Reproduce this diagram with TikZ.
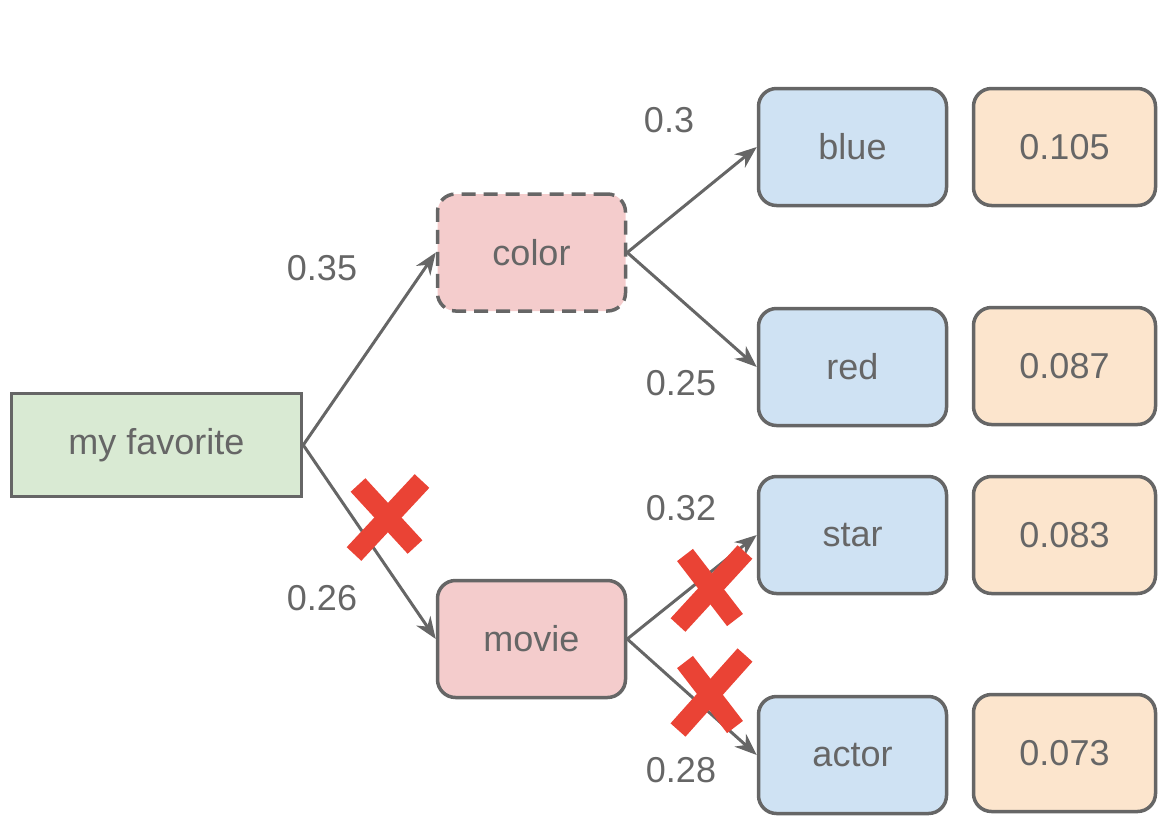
\documentclass[tikz,border=0pt]{standalone}
\usepackage{fontspec}
\setmainfont{Liberation Sans}
\usetikzlibrary{arrows.meta}
\definecolor{ink}{HTML}{666666}
\definecolor{rootfill}{HTML}{D9EAD3}
\definecolor{midfill}{HTML}{F4CCCC}
\definecolor{leaffill}{HTML}{CFE2F3}
\definecolor{probfill}{HTML}{FCE5CD}
\definecolor{cross}{HTML}{EA4335}
\tikzset{
  base/.style={draw=ink, line width=3.5pt, text=ink, font=\fontsize{36}{40}\selectfont, inner sep=0pt},
  rootbox/.style={base, fill=rootfill, minimum width=290pt, minimum height=103pt},
  midbox/.style={base, fill=midfill, rounded corners=18pt, minimum width=188pt, minimum height=117pt},
  leafbox/.style={base, fill=leaffill, rounded corners=18pt, minimum width=188pt, minimum height=117pt},
  probbox/.style={base, fill=probfill, rounded corners=18pt, minimum width=182pt, minimum height=117pt},
  edge/.style={draw=ink, line width=3pt, -{Stealth[length=22pt,width=17pt,inset=7pt]}},
  weight/.style={text=ink, font=\fontsize{36}{40}\selectfont, inner sep=0pt},
  xmark/.style={draw=cross, line width=20pt}
}
\begin{document}
\begin{tikzpicture}[x=1pt,y=-1pt]
\useasboundingbox (0,0) rectangle (1159,815);

% tree nodes
\node[rootbox] (fav) at (156.5,445) {my favorite};
\node[midbox, dash pattern=on 14pt off 8pt] (color) at (531.5,252.5) {color};
\node[midbox] (movie) at (531.5,639) {movie};

\node[leafbox] (blue) at (852.5,147) {blue};
\node[leafbox] (red) at (852.5,367) {red};
\node[leafbox] (star) at (852.5,535) {star};
\node[leafbox] (actor) at (852.5,755) {actor};

% joint probabilities
\node[probbox] (pblue) at (1064.5,147) {0.105};
\node[probbox] (pred) at (1064.5,366) {0.087};
\node[probbox] (pstar) at (1064.5,535) {0.083};
\node[probbox] (pactor) at (1064.5,753) {0.073};

% branches
\draw[edge] (fav.east) -- (color.west);
\draw[edge] (fav.east) -- (movie.west);
\draw[edge] (color.east) -- (blue.west);
\draw[edge] (color.east) -- (red.west);
\draw[edge] (movie.east) -- (star.west);
\draw[edge] (movie.east) -- (actor.west);

% branch probabilities
\node[weight] (w1) at (322,268) {0.35};
\node[weight] (w2) at (322,598) {0.26};
\node[weight] (w3) at (669,120) {0.3};
\node[weight] (w4) at (681,383) {0.25};
\node[weight] (w5) at (681,508) {0.32};
\node[weight] (w6) at (681,770) {0.28};

% pruned branches
\draw[xmark] (358,485) -- (415,547);
\draw[xmark] (422,481) -- (354,554);
\draw[xmark] (685,555) -- (735,620);
\draw[xmark] (745,552) -- (678,625);
\draw[xmark] (685,662) -- (735,727);
\draw[xmark] (745,655) -- (678,730);
\end{tikzpicture}
\end{document}
